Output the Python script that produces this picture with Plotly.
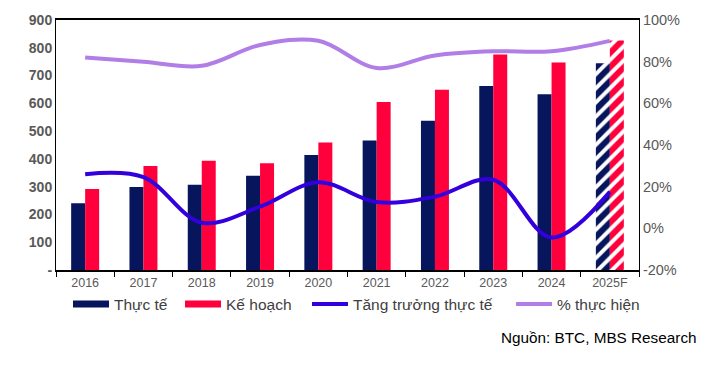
import plotly.graph_objects as go

years = ["2016", "2017", "2018", "2019", "2020", "2021", "2022", "2023", "2024", "2025F"]
thuc_te = [240, 299, 307, 339, 414, 466, 537, 662, 633, 744]
ke_hoach = [292, 374, 393, 384, 459, 605, 649, 776, 747, 826]
tang_truong = [26, 24.6, 2.7, 10.4, 22.1, 12.6, 15.2, 23.3, -4.4, 17.5]
thuc_hien = [82, 80, 78, 88, 90, 77, 83, 85, 85, 90]
left_ticks = [0, 100, 200, 300, 400, 500, 600, 700, 800, 900]
left_labels = ["-", "100", "200", "300", "400", "500", "600", "700", "800", "900"]
right_ticks = [-20, 0, 20, 40, 60, 80, 100]
right_labels = ["-20%", "0%", "20%", "40%", "60%", "80%", "100%"]

NAVY = "#06155C"
RED = "#FF003D"
BLUE = "#3300DD"
PURPLE = "#B07EE6"
GRAY = "#595959"

patt = [""] * (len(years) - 1) + ["/"]

fig = go.Figure()
fig.add_trace(go.Bar(
    x=years, y=thuc_te, name="Thực tế", showlegend=False,
    marker=dict(color=NAVY, line=dict(width=0),
                pattern=dict(shape=patt, fgcolor="white", fgopacity=1, fillmode="overlay",
                             size=10, solidity=0.4)),
))
fig.add_trace(go.Bar(
    x=years, y=ke_hoach, name="Kế hoạch", showlegend=False,
    marker=dict(color=RED, line=dict(width=0),
                pattern=dict(shape=patt, fgcolor="white", fgopacity=1, fillmode="overlay",
                             size=10, solidity=0.4)),
))
fig.add_trace(go.Scatter(
    x=years, y=tang_truong, name="Tăng trưởng thực tế", yaxis="y2", showlegend=False,
    mode="lines", line=dict(color=BLUE, width=4, shape="spline", smoothing=1.0),
))
fig.add_trace(go.Scatter(
    x=years, y=thuc_hien, name="% thực hiện", yaxis="y2", showlegend=False,
    mode="lines", line=dict(color=PURPLE, width=4, shape="spline", smoothing=1.0),
))

# legend entries, each in its own legend box
legend_items = [("Thực tế", NAVY, 7), ("Kế hoạch", RED, 7),
                ("Tăng trưởng thực tế", BLUE, 4), ("% thực hiện", PURPLE, 4)]
legend_x = [0.0206, 0.2127, 0.4305, 0.7804]
legend_ids = ["legend", "legend2", "legend3", "legend4"]
for (name, color, width), lid in zip(legend_items, legend_ids):
    fig.add_trace(go.Scatter(x=[None], y=[None], name=name, mode="lines", legend=lid,
                             line=dict(color=color, width=width)))

legend_style = dict(orientation="h", y=-0.138, xanchor="left", yanchor="middle",
                    font=dict(size=15.5, color="#404040"), itemwidth=36,
                    bgcolor="rgba(0,0,0,0)")
legends = {lid: dict(legend_style, x=lx) for lid, lx in zip(legend_ids, legend_x)}

fig.update_layout(
    width=718, height=367,
    margin=dict(l=56, r=79, t=17, b=97),
    paper_bgcolor="white", plot_bgcolor="white",
    font=dict(family="Liberation Sans, Arial, sans-serif", color=GRAY),
    barmode="group", bargap=0.52, bargroupgap=0,
    showlegend=True,
    **legends,
    xaxis=dict(
        type="category", showline=True, linecolor="black", linewidth=1.5, mirror=True,
        ticks="outside", tickson="boundaries", ticklen=5, tickcolor="black",
        tickfont=dict(size=12.5, color=GRAY), showgrid=False,
    ),
    yaxis=dict(
        range=[0, 900], tickmode="array", tickvals=left_ticks, ticktext=left_labels,
        showline=True, linecolor="black", linewidth=1, mirror=False,
        showgrid=False, zeroline=False, ticks="",
        tickfont=dict(size=14, color=GRAY, family="Liberation Sans, Arial, sans-serif", weight="bold"),
    ),
    yaxis2=dict(
        range=[-20, 100], tickmode="array", tickvals=right_ticks, ticktext=right_labels,
        overlaying="y", side="right", showline=True, linecolor="black", linewidth=1,
        showgrid=False, zeroline=False, ticks="",
        tickfont=dict(size=14.5, color=GRAY),
    ),
    annotations=[dict(
        text="Nguồn: BTC, MBS Research", xref="paper", yref="paper",
        x=1.1025, y=-0.27, xanchor="right", yanchor="middle", showarrow=False,
        font=dict(size=15.3, color="black"),
    )],
)

fig.write_html("out.html", config={"displayModeBar": False},
               post_script="document.body.style.margin='0';document.body.style.padding='0';")
